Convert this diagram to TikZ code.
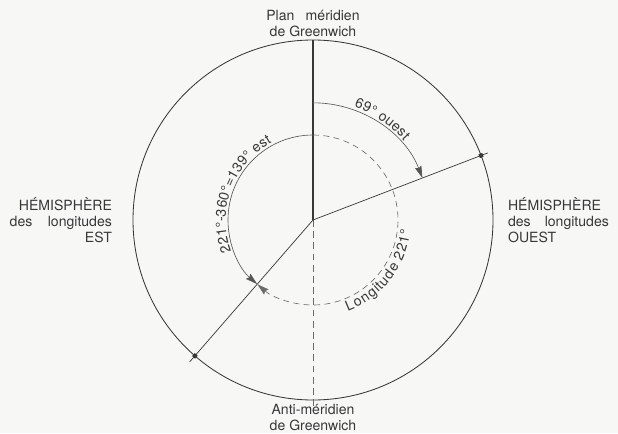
\documentclass[tikz,border=0pt]{standalone}
\usepackage{fontspec}
\setmainfont{TeX Gyre Heros}
\usepackage{tikz}
\usetikzlibrary{arrows.meta,calc,positioning,decorations.text}
\definecolor{papier}{rgb}{0.97,0.97,0.96}
\definecolor{encre}{rgb}{0.22,0.22,0.22}
\definecolor{tirets}{rgb}{0.42,0.42,0.42}
\newcommand{\arcfont}{\fontsize{10}{12}\selectfont}
\tikzset{
  cercle/.style={
    draw=encre,
    line width=.6pt
  },
  meridien/.style={
    draw=encre,
    line width=1.2pt
  },
  antimeridien/.style={
    draw=tirets,
    line width=.6pt,
    dash pattern=on 1.7mm off 1.1mm
  },
  rayon/.style={
    draw=encre,
    line width=.5pt
  },
  arcplein/.style={
    draw=encre!85,
    line width=.45pt
  },
  arctiret/.style={
    draw=tirets,
    line width=.45pt,
    dash pattern=on 1.5mm off 1.1mm
  },
  fleche/.style={
    -{Stealth[length=3mm,width=1.7mm,inset=.4mm]}
  },
  coin/.style={
    rectangle,
    fill=encre,
    minimum size=1mm,
    inner sep=0pt
  },
  etiquette/.style={
    text=encre,
    inner sep=0pt,
    font=\fontsize{10}{11.4}\selectfont
  },
  legendearc/.style={
    decorate,
    decoration={text along path,text align=center,text color=encre}
  }
}

\begin{document}
\begin{tikzpicture}
\useasboundingbox[fill=papier] (-7.825,-5.325) rectangle (7.625,5.5);

% centre et points du grand cercle
\coordinate (O) at (0,0);
\coordinate (nord) at (90:4.5);
\coordinate (sud) at (-90:4.5);
\coordinate (sudbout) at (-90:4.7);
\coordinate (bordest) at (180:4.5);
\coordinate (bordouest) at (0:4.5);
\coordinate (bout69) at (21:4.68);
\coordinate (bout221) at (229:4.7);

\draw[cercle] (O) circle[radius=4.5];
\draw[meridien] (O) -- (nord);
\draw[antimeridien] (O) -- (sudbout);
\draw[rayon] (O) -- (bout69);
\draw[rayon] (O) -- (bout221);
\node[coin,rotate=21] (pt69) at (21:4.5) {};
\node[coin,rotate=49] (pt221) at (229:4.5) {};

% arcs des longitudes
\draw[arcplein,fleche] (90:2.93) arc[start angle=90,end angle=21,radius=2.93];
\draw[arcplein,fleche] (90:2.125) arc[start angle=90,end angle=229,radius=2.125];
\draw[arctiret,fleche] (90:2.125) arc[start angle=90,end angle=-131,radius=2.125];

\path[legendearc,decoration={raise=.08cm,text={|\arcfont|69° ouest}}]
  (90:2.93) arc[start angle=90,end angle=21,radius=2.93];
\path[legendearc,decoration={raise=.06cm,text={|\arcfont|221°-360°=139° est}}]
  (229:2.125) arc[start angle=229,end angle=90,radius=2.125];
\path[legendearc,decoration={raise=-.32cm,text={|\arcfont|Longitude 221°}}]
  (-80:2.125) arc[start angle=-80,end angle=5,radius=2.125];

% legendes
\node[etiquette,above=.07cm of nord,align=center] (plan) {Plan\hspace{.8em}méridien\\de Greenwich};
\node[etiquette,below=.1cm of sud,align=center] (anti) {Anti-méridien\\de Greenwich};
\node[etiquette,left=.52cm of bordest,align=right] (hemest) {HÉMISPHÈRE\\des\hspace{1.1em}longitudes\\EST};
\node[etiquette,right=.37cm of bordouest,align=left] (hemouest) {HÉMISPHÈRE\\des\hspace{1em}longitudes\\OUEST};
\end{tikzpicture}
\end{document}
